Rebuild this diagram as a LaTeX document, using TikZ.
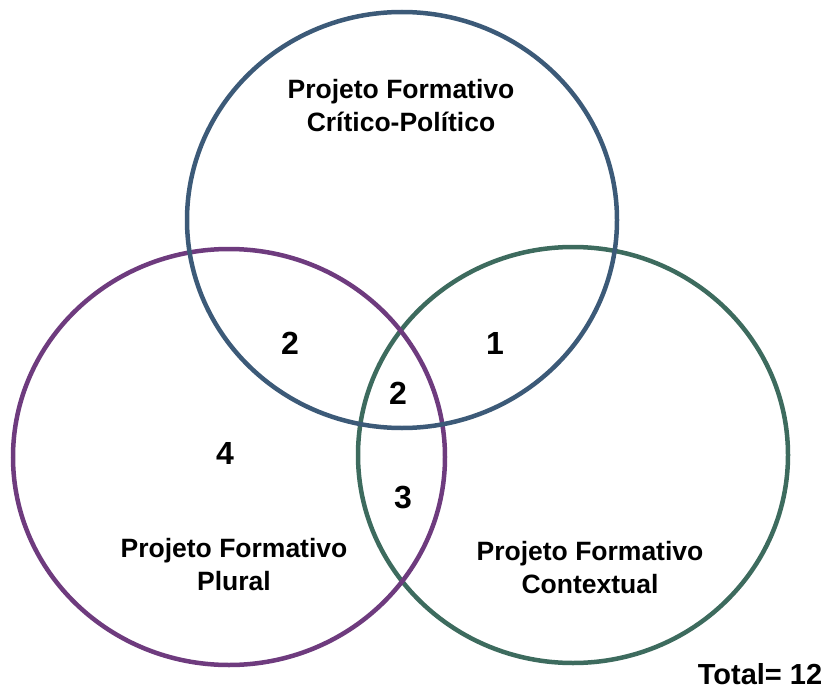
\documentclass[tikz,border=0pt]{standalone}
\usepackage{fontspec}
\setmainfont{Liberation Sans}
\definecolor{ringblue}{HTML}{3C5A78}
\definecolor{ringgreen}{HTML}{3D6B5E}
\definecolor{ringpurple}{HTML}{6E3B7E}
\tikzset{
  ring/.style={line width=4.5pt},
  setname/.style={font=\bfseries\fontsize{26.5}{33}\selectfont, align=center, inner sep=0pt},
  count/.style={font=\bfseries\fontsize{32}{32}\selectfont, inner sep=0pt}
}
\begin{document}
\begin{tikzpicture}[x=1pt,y=-1pt]
 \useasboundingbox (0,0) rectangle (827,690);
 \coordinate (CP) at (402,220);
 \coordinate (PL) at (229,457);
 \coordinate (CT) at (573,455);

 \draw [ring, ringgreen] (CT) ellipse [x radius=215, y radius=208];
 \draw [ring, ringpurple] (PL) ellipse [x radius=216, y radius=208];
 \draw [ring, ringblue] (CP) ellipse [x radius=215, y radius=208];

 \node (nCP) [setname] at (401,106) {Projeto Formativo\\Crítico-Político};
 \node (nPL) [setname] at (234,565) {Projeto Formativo\\Plural};
 \node (nCT) [setname] at (590,568) {Projeto Formativo\\Contextual};

 \node (kCPPL) [count] at (290,343) {2};
 \node (kCPCT) [count] at (495,343) {1};
 \node (kAll) [count] at (398,393) {2};
 \node (kPL) [count] at (225,453) {4};
 \node (kPLCT) [count] at (403,498) {3};

 \node (total) [font=\bfseries\fontsize{29}{29}\selectfont, inner sep=0pt] at (760,674) {Total= 12};
\end{tikzpicture}
\end{document}
